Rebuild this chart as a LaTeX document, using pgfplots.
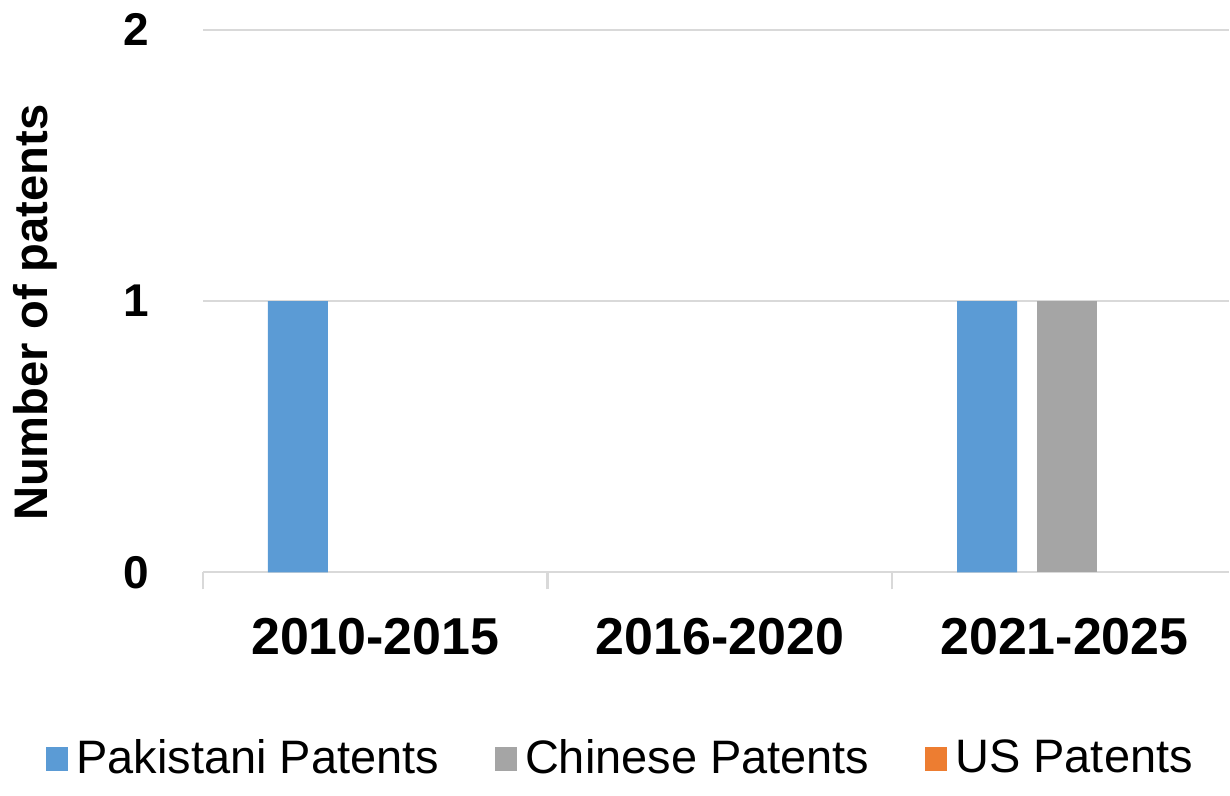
\documentclass[border=0pt]{standalone}
\usepackage{fontspec}
\setmainfont{Liberation Sans}
\usepackage{pgfplots}
\pgfplotsset{compat=1.18}
\definecolor{pkblue}{HTML}{5B9BD5}
\definecolor{cngray}{HTML}{A5A5A5}
\definecolor{usorange}{HTML}{ED7D31}
\definecolor{gridgray}{HTML}{D9D9D9}
\begin{document}
\begin{tikzpicture}
\begin{axis}[
  at={(0,0)}, anchor=south west,
  scale only axis,
  width=256.75pt, height=135.75pt,
  xmin=-0.5, xmax=2.477,
  ymin=0, ymax=2,
  ybar, bar width=0.174,
  ytick={0,1,2},
  xtick={0,1,2},
  xticklabels={2010-2015,2016-2020,2021-2025},
  /pgf/number format/assume math mode=true,
  axis x line*=bottom,
  axis y line*=left,
  x axis line style={draw=gridgray, line width=0.6pt, -},
  y axis line style={draw=none},
  major tick length=0pt,
  ymajorgrids,
  grid style={draw=gridgray, line width=0.6pt},
  extra x ticks={-0.5,0.5,1.5},
  extra x tick labels={},
  extra x tick style={major tick length=4.25pt, tick align=outside, xmajorgrids=false, tick style={draw=gridgray, line width=0.6pt}},
  xticklabel style={font=\fontsize{13}{13}\selectfont\bfseries, anchor=north, yshift=-8pt},
  yticklabel style={font=\fontsize{11.5}{11.5}\selectfont\bfseries, anchor=east, xshift=-10pt},
  ylabel={Number of patents},
  every axis y label/.style={at={(axis description cs:0,0.5)}, xshift=-42pt, yshift=-2.9pt, rotate=90, anchor=center, font=\fontsize{11.8}{11.8}\selectfont\bfseries},
  legend columns=3,
  legend style={at={(axis description cs:0.41,0)}, yshift=-46.75pt, anchor=center, draw=none, fill=none,
    font=\fontsize{11.75}{11.75}\selectfont,
    /tikz/every even column/.append style={column sep=12pt}},
  legend image code/.code={\fill[#1, fill opacity=1] (0pt,-2.9pt) rectangle (5.5pt,2.9pt);},
  clip=false,
]
\addplot[fill=pkblue, draw=none, bar shift=-0.2246, restrict y to domain=0.01:3] coordinates {(0,1) (1,0) (2,1)};
\addplot[fill=cngray, draw=none, bar shift=0.006, restrict y to domain=0.01:3] coordinates {(0,0) (1,0) (2,1)};
\addplot[fill=usorange, draw=none, fill opacity=0, bar shift=0.2366] coordinates {(0,0) (1,0) (2,0)};
\legend{Pakistani Patents, Chinese Patents, US Patents}
\end{axis}
\useasboundingbox (-50.75pt,-52pt) rectangle (256.75pt,143.25pt);
\end{tikzpicture}
\end{document}
